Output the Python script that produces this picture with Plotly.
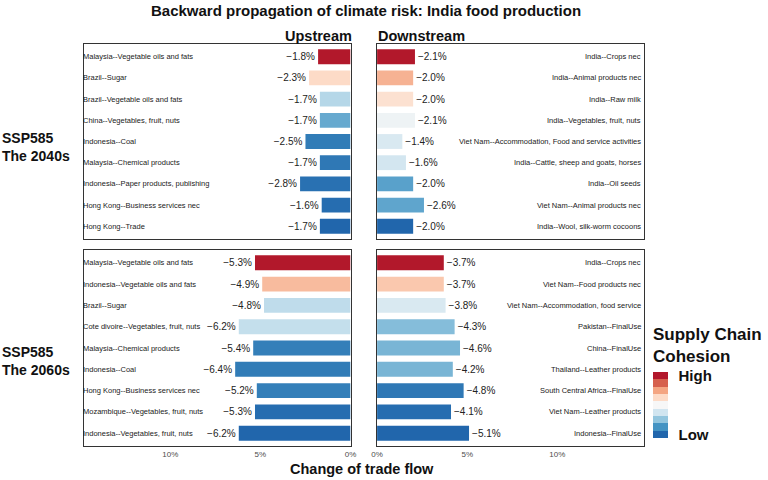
import plotly.graph_objects as go

# ---------------- data ----------------
up40_labels = ["Malaysia--Vegetable oils and fats", "Brazil--Sugar", "Brazil--Vegetable oils and fats",
               "China--Vegetables, fruit, nuts", "Indonesia--Coal", "Malaysia--Chemical products",
               "Indonesia--Paper products, publishing", "Hong Kong--Business services nec", "Hong Kong--Trade"]
up40_values = [-1.8, -2.3, -1.7, -1.7, -2.5, -1.7, -2.8, -1.6, -1.7]
up40_cohesion = [1.0, 0.625, 0.32, 0.18, 0.06, 0.05, 0.03, 0.02, 0.0]

down40_labels = ["India--Crops nec", "India--Animal products nec", "India--Raw milk",
                 "India--Vegetables, fruit, nuts", "Viet Nam--Accommodation, Food and service activities",
                 "India--Cattle, sheep and goats, horses", "India--Oil seeds",
                 "Viet Nam--Animal products nec", "India--Wool, silk-worm cocoons"]
down40_values = [-2.1, -2.0, -2.0, -2.1, -1.4, -1.6, -2.0, -2.6, -2.0]
down40_cohesion = [1.0, 0.72, 0.6, 0.47, 0.40, 0.38, 0.16, 0.17, 0.0]

up60_labels = ["Malaysia--Vegetable oils and fats", "Indonesia--Vegetable oils and fats", "Brazil--Sugar",
               "Cote divoire--Vegetables, fruit, nuts", "Malaysia--Chemical products", "Indonesia--Coal",
               "Hong Kong--Business services nec", "Mozambique--Vegetables, fruit, nuts",
               "Indonesia--Vegetables, fruit, nuts"]
up60_values = [-5.3, -4.9, -4.8, -6.2, -5.4, -6.4, -5.2, -5.3, -6.2]
up60_cohesion = [1.0, 0.70, 0.34, 0.35, 0.07, 0.06, 0.07, 0.02, 0.0]

down60_labels = ["India--Crops nec", "Viet Nam--Food products nec", "Viet Nam--Accommodation, food service",
                 "Pakistan--FinalUse", "China--FinalUse", "Thailand--Leather products",
                 "South Central Africa--FinalUse", "Viet Nam--Leather products", "Indonesia--FinalUse"]
down60_values = [-3.7, -3.7, -3.8, -4.3, -4.6, -4.2, -4.8, -4.1, -5.1]
down60_cohesion = [1.0, 0.67, 0.40, 0.23, 0.21, 0.21, 0.05, 0.02, 0.0]

x_tick_values = [0, 5, 10]
x_tick_labels = ["0%", "5%", "10%"]
legend_ticks = ["Low", "High"]

# ---------------- styling ----------------
FONT = "Liberation Sans"
palette = ["#2166AC", "#4393C3", "#92C5DE", "#D1E5F0", "#F7F7F7",
           "#FDDBC7", "#F4A582", "#D6604D", "#B2182B"]
n = len(palette)
cont_scale = [[i / (n - 1), c] for i, c in enumerate(palette)]
step_scale = []
for i, c in enumerate(palette):
    step_scale.append([i / n, c])
    step_scale.append([(i + 1) / n, c])

XMAX = 14.8
W, H = 768, 480

fig = go.Figure()

panels = [
    (up40_labels, up40_values, up40_cohesion, "x", "y", "left"),
    (down40_labels, down40_values, down40_cohesion, "x2", "y2", "right"),
    (up60_labels, up60_values, up60_cohesion, "x3", "y3", "left"),
    (down60_labels, down60_values, down60_cohesion, "x4", "y4", "right"),
]

annotations = []
for labels, values, coh, xa, ya, side in panels:
    mags = [abs(v) for v in values]
    texts = ["\u2212{:.1f}%".format(abs(v)) for v in values]
    fig.add_trace(go.Bar(
        x=mags, y=labels, orientation="h", xaxis=xa, yaxis=ya,
        marker=dict(color=coh, colorscale=cont_scale, cmin=0, cmax=1, line=dict(width=0)),
        text=texts, textposition="outside", constraintext="none", cliponaxis=False,
        textfont=dict(family=FONT, size=10, color="#222222"),
        showlegend=False, hoverinfo="skip"))
    for lab in labels:
        if side == "left":
            annotations.append(dict(xref=xa + " domain", yref=ya, x=0, y=lab, text=lab,
                                    xanchor="left", yanchor="middle", showarrow=False, xshift=-3,
                                    font=dict(family=FONT, size=7.5, color="#1a1a1a")))
        else:
            annotations.append(dict(xref=xa + " domain", yref=ya, x=1, y=lab, text=lab,
                                    xanchor="right", yanchor="middle", showarrow=False, xshift=-1,
                                    font=dict(family=FONT, size=7.5, color="#1a1a1a")))

# dummy trace for stepped colour legend
fig.add_trace(go.Scatter(
    x=[None], y=[None], mode="markers", xaxis="x4", yaxis="y4", showlegend=False, hoverinfo="skip",
    marker=dict(color=[0.5], cmin=0, cmax=1, colorscale=step_scale, showscale=True,
                colorbar=dict(x=657 / W, xanchor="left", y=1 - 405 / H, yanchor="middle",
                              lenmode="pixels", len=66, thickness=15, xpad=0, ypad=0,
                              outlinewidth=0, tickvals=[1 / 18, 17 / 18], ticktext=legend_ticks,
                              ticks="outside", ticklen=8, tickcolor="rgba(0,0,0,0)",
                              tickfont=dict(family=FONT, size=15, color="#111111", weight="bold"),
                              title=dict(text="")))))

xl = [79 / W, 350 / W]
xr = [377 / W, 648 / W]
yt = [1 - 239 / H, 1 - 44 / H]
yb = [1 - 446 / H, 1 - 250 / H]

def xaxis(domain, anchor, reverse, labels_on):
    return dict(domain=domain, anchor=anchor,
                range=[XMAX, 0] if reverse else [0, XMAX],
                tickmode="array", tickvals=x_tick_values, ticktext=x_tick_labels,
                showticklabels=labels_on, ticks="",
                tickfont=dict(family=FONT, size=8, color="#4D4D4D"),
                showgrid=False, zeroline=False, showline=True, mirror=True,
                linecolor="#333333", linewidth=1, fixedrange=True)

def yaxis(domain, anchor):
    return dict(domain=domain, anchor=anchor, type="category", range=[8.6, -0.6],
                showticklabels=False, ticks="", showgrid=False, zeroline=False,
                showline=True, mirror=True, linecolor="#333333", linewidth=1, fixedrange=True)

bold = dict(family=FONT, color="#111111")
annotations += [
    dict(xref="paper", yref="paper", x=366 / W, y=1 - 10 / H, text="<b>Backward propagation of climate risk: India food production</b>",
         showarrow=False, xanchor="center", yanchor="middle", font=dict(size=15, **bold)),
    dict(xref="paper", yref="paper", x=354 / W, y=1 - 36 / H, text="<b>Upstream</b>",
         showarrow=False, xanchor="right", yanchor="middle", font=dict(size=14.5, **bold)),
    dict(xref="paper", yref="paper", x=376 / W, y=1 - 36 / H, text="<b>Downstream</b>",
         showarrow=False, xanchor="left", yanchor="middle", font=dict(size=14.5, **bold)),
    dict(xref="paper", yref="paper", x=0, y=1 - 147 / H, text="<b>SSP585<br>The 2040s</b>", xshift=-6,
         showarrow=False, xanchor="left", yanchor="middle", align="left", font=dict(size=14, **bold)),
    dict(xref="paper", yref="paper", x=0, y=1 - 361 / H, text="<b>SSP585<br>The 2060s</b>", xshift=-6,
         showarrow=False, xanchor="left", yanchor="middle", align="left", font=dict(size=14, **bold)),
    dict(xref="paper", yref="paper", x=362 / W, y=1 - 469 / H, text="<b>Change of trade flow</b>",
         showarrow=False, xanchor="center", yanchor="middle", font=dict(size=14.5, **bold)),
    dict(xref="paper", yref="paper", x=655 / W, y=1 - 345 / H, text="<b>Supply Chain<br>Cohesion</b>",
         showarrow=False, xanchor="left", yanchor="middle", align="left", font=dict(size=17, **bold)),
]

fig.update_layout(
    width=W, height=H, autosize=False,
    margin=dict(l=0, r=0, t=0, b=0),
    paper_bgcolor="white", plot_bgcolor="white",
    bargap=0.3,
    font=dict(family=FONT),
    xaxis=xaxis(xl, "y", True, False),
    xaxis2=xaxis(xr, "y2", False, False),
    xaxis3=xaxis(xl, "y3", True, True),
    xaxis4=xaxis(xr, "y4", False, True),
    yaxis=yaxis(yt, "x"),
    yaxis2=yaxis(yt, "x2"),
    yaxis3=yaxis(yb, "x3"),
    yaxis4=yaxis(yb, "x4"),
    annotations=annotations,
)

# remove the browser's default page margin so the 768x480 figure fills the window
fig.write_html("out.html", config={"displayModeBar": False},
               post_script="document.body.style.margin='0px';")
